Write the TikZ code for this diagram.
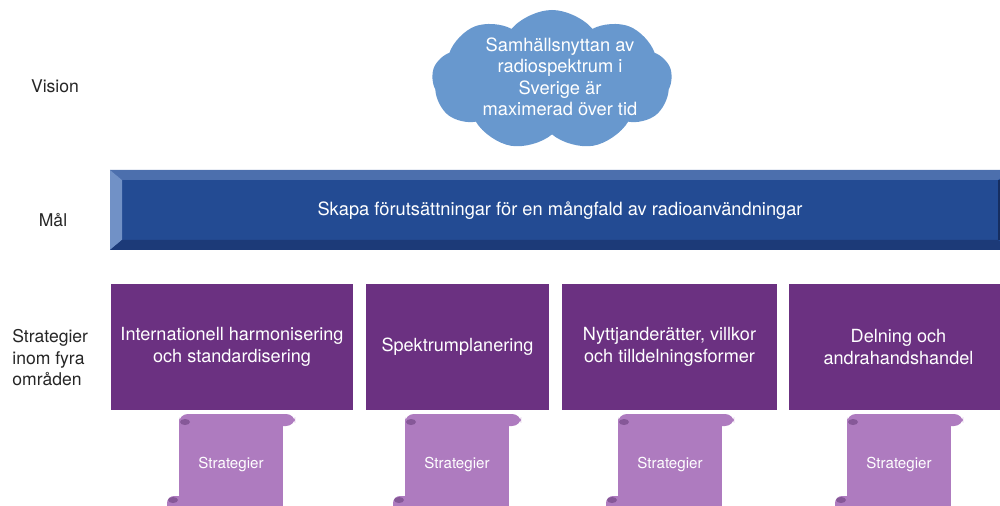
\documentclass[tikz,border=0pt]{standalone}
\usepackage{fontspec}
\setmainfont{TeX Gyre Heros}
\usepackage{tikz}
\usetikzlibrary{shapes,positioning}
\definecolor{cloudblue}{RGB}{104,152,206}
\definecolor{barface}{RGB}{35,75,147}
\definecolor{bartop}{RGB}{76,111,173}
\definecolor{barleft}{RGB}{113,145,198}
\definecolor{barbottom}{RGB}{28,58,120}
\definecolor{areapurple}{RGB}{107,49,129}
\definecolor{scrollpurple}{RGB}{174,123,191}
\definecolor{curlpurple}{RGB}{134,88,152}

\begin{document}
\begin{tikzpicture}
  [
    x=0.2mm, y=-0.2mm,
    Label/.style={font=\fontsize{10}{12.2}\selectfont, align=left, text=black!85, inner sep=0pt},
    Vision/.style={cloud, cloud puffs=9, cloud puff arc=100, fill=cloudblue, draw=none, minimum width=48mm, minimum height=28mm, inner sep=0pt},
    Area/.style={rectangle, fill=areapurple, text=white, align=center, font=\fontsize{10.3}{12.2}\selectfont, minimum height=25mm, inner sep=0pt},
    Scroll/.pic={
      \fill[scrollpurple] (-52,6) rectangle (52,100);
      \fill[scrollpurple, rounded corners=5pt] (-52,0) rectangle (64,12);
      \fill[scrollpurple, rounded corners=4pt] (-64,82) rectangle (-46,100);
      \fill[curlpurple] (-46,8) ellipse (5 and 3);
      \fill[curlpurple] (-58,86) ellipse (5 and 3);
    }
  ]
  \clip (0,0) rectangle (1000,506);
  % Vision
  \node[Label] (lvision) at (55,86) {Vision};
  \node[Vision] (vision) at (552,80) {};
  \node[text=white, align=center, font=\fontsize{10.4}{12.2}\selectfont] (visiontext) at (560,77) {Samhällsnyttan av\\radiospektrum i\\Sverige är\\maximerad över tid};
  % Mål
  \node[Label] (lmal) at (53,220) {Mål};
  \fill[barface] (110,170) rectangle (1010,250);
  \fill[bartop] (110,170) -- (1010,170) -- (998,180) -- (122,180) -- cycle;
  \fill[barleft] (110,170) -- (122,180) -- (122,240) -- (110,250) -- cycle;
  \fill[barbottom] (110,250) -- (122,240) -- (998,240) -- (1010,250) -- cycle;
  \fill[barbottom!80!black] (998,180) rectangle (1010,240);
  \node[text=white, font=\fontsize{10.4}{12.2}\selectfont] (mal) at (560,211) {Skapa förutsättningar för en mångfald av radioanvändningar};
  % Strategier
  \node[Label, anchor=west] (lstrat) at (12,358) {Strategier\\inom fyra\\områden};
  \node[Area, minimum width=48.4mm] (area1) at (232,347) {Internationell harmonisering\\och standardisering};
  \node[Area, minimum width=36.6mm] (area2) at (457.5,347) {Spektrumplanering};
  \node[Area, minimum width=43mm] (area3) at (669.5,347) {Nyttjanderätter, villkor\\och tilldelningsformer};
  \node[Area, minimum width=43.8mm] (area4) at (898.5,347) {Delning och\\andrahandshandel};
  % Scrolls
  \pic at (231,414) {Scroll};
  \pic at (457,414) {Scroll};
  \pic at (670,414) {Scroll};
  \pic at (899,414) {Scroll};
  \node[text=white, font=\fontsize{8.6}{10}\selectfont] (strat1) at (231,465) {Strategier};
  \node[text=white, font=\fontsize{8.6}{10}\selectfont] (strat2) at (457,465) {Strategier};
  \node[text=white, font=\fontsize{8.6}{10}\selectfont] (strat3) at (670,465) {Strategier};
  \node[text=white, font=\fontsize{8.6}{10}\selectfont] (strat4) at (899,465) {Strategier};
\end{tikzpicture}
\end{document}
